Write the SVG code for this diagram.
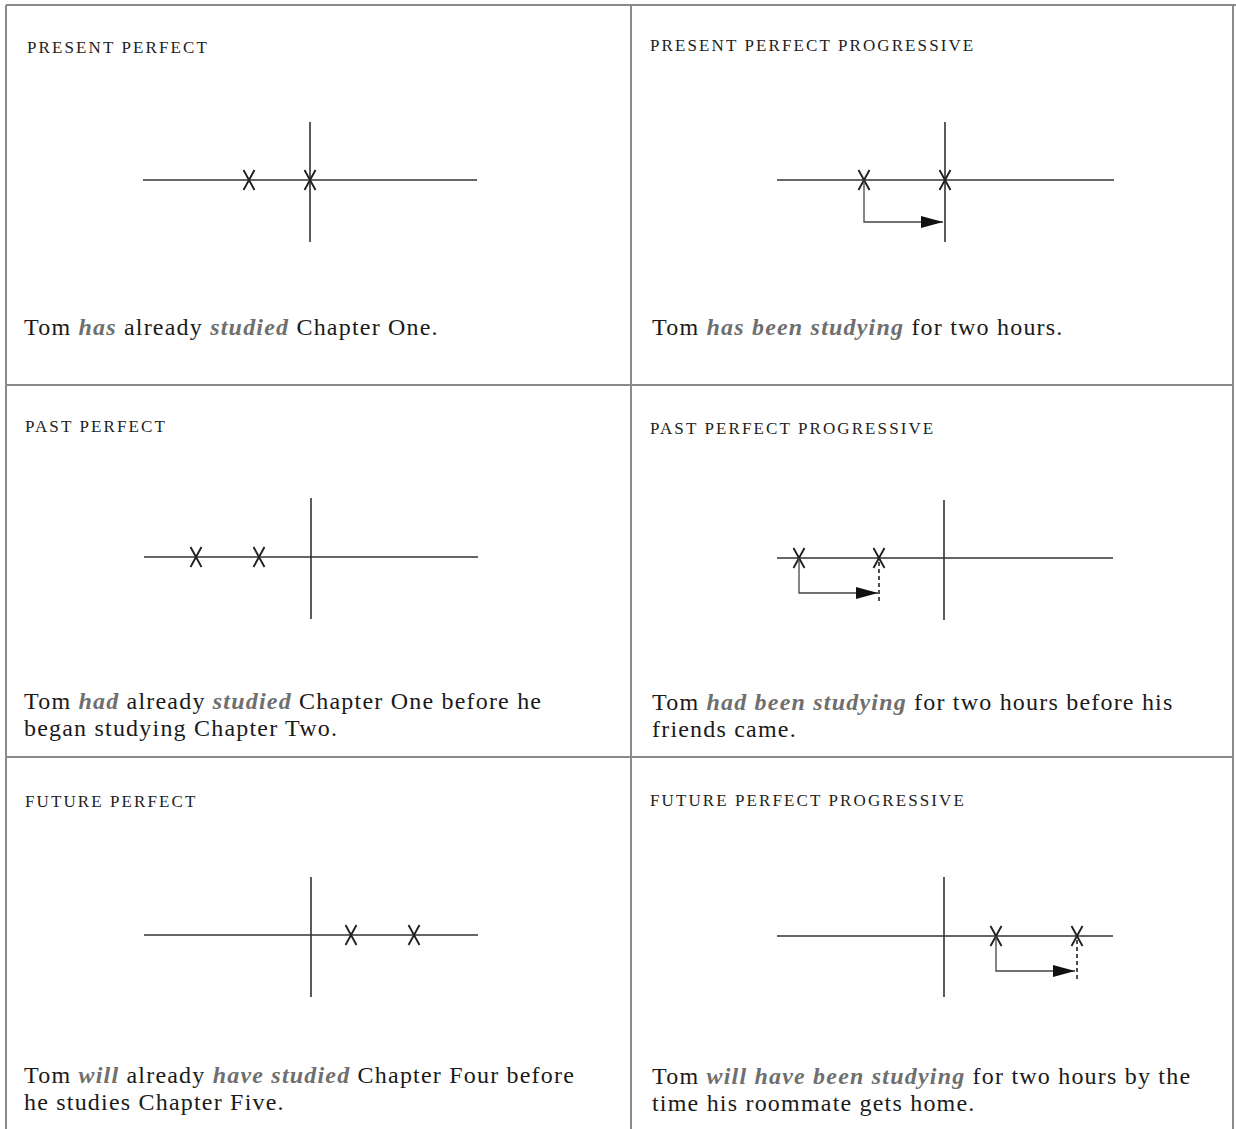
<svg xmlns="http://www.w3.org/2000/svg" width="1236" height="1129" viewBox="0 0 1236 1129">
<style>
.grid{stroke:#8a8a8a;stroke-width:2;fill:none}
.tl{stroke:#333;stroke-width:1.6;fill:none}
.x{stroke:#222;stroke-width:1.9;fill:none}
.dash{stroke:#222;stroke-width:1.6;stroke-dasharray:4 3;fill:none}
.arr{stroke:#444;stroke-width:1.3;fill:none}
.title{font-family:"Liberation Serif",serif;font-size:17px;letter-spacing:2.1px;fill:#222}
.sent{font-family:"Liberation Serif",serif;font-size:24px;letter-spacing:1.2px;fill:#1a1a1a}
.em{font-weight:bold;font-style:italic;fill:#6f6f6f}
</style>
<defs>
<marker id="ah" viewBox="0 0 22 12" refX="22" refY="6" markerWidth="22" markerHeight="12" markerUnits="userSpaceOnUse" orient="auto">
<path d="M0,0 L22,6 L0,12 Z" fill="#111"/>
</marker>
<g id="xm"><path class="x" d="M-5.5,-10 L5.5,10 M5.5,-10 L-5.5,10"/></g>
</defs>
<rect width="1236" height="1129" fill="#fff"/>
<g id="grid">
<line class="grid" x1="6" y1="5" x2="1236" y2="5"/>
<line class="grid" x1="6" y1="5" x2="6" y2="1129"/>
<line class="grid" x1="1233" y1="5" x2="1233" y2="1129"/>
<line class="grid" x1="631" y1="5" x2="631" y2="1129"/>
<line class="grid" x1="6" y1="385" x2="1233" y2="385"/>
<line class="grid" x1="6" y1="757" x2="1233" y2="757"/>
</g>
<g id="present-perfect">
<text class="title" x="27" y="53">PRESENT PERFECT</text>
<line class="tl" x1="143" y1="180" x2="477" y2="180"/>
<line class="tl" x1="310" y1="122" x2="310" y2="242"/>
<use href="#xm" x="249" y="180"/>
<use href="#xm" x="310" y="180"/>
<text class="sent" x="24" y="335">Tom <tspan class="em">has</tspan> already <tspan class="em">studied</tspan> Chapter One.</text>
</g>
<g id="present-perfect-progressive">
<text class="title" x="650" y="51">PRESENT PERFECT PROGRESSIVE</text>
<line class="tl" x1="777" y1="180" x2="1114" y2="180"/>
<line class="tl" x1="945" y1="122" x2="945" y2="242"/>
<use href="#xm" x="864" y="180"/>
<use href="#xm" x="945" y="180"/>
<text class="sent" x="652" y="335">Tom <tspan class="em">has been studying</tspan> for two hours.</text>
</g>
<g id="past-perfect">
<text class="title" x="25" y="432">PAST PERFECT</text>
<line class="tl" x1="144" y1="557" x2="478" y2="557"/>
<line class="tl" x1="311" y1="498" x2="311" y2="619"/>
<use href="#xm" x="196" y="557"/>
<use href="#xm" x="259" y="557"/>
<text class="sent" x="24" y="709">Tom <tspan class="em">had</tspan> already <tspan class="em">studied</tspan> Chapter One before he</text>
<text class="sent" x="24" y="736">began studying Chapter Two.</text>
</g>
<g id="past-perfect-progressive">
<text class="title" x="650" y="434">PAST PERFECT PROGRESSIVE</text>
<line class="tl" x1="777" y1="558" x2="1113" y2="558"/>
<line class="tl" x1="944" y1="500" x2="944" y2="620"/>
<use href="#xm" x="799" y="558"/>
<use href="#xm" x="879" y="558"/>
<line class="dash" x1="879" y1="562" x2="879" y2="603"/>
<text class="sent" x="652" y="710">Tom <tspan class="em">had been studying</tspan> for two hours before his</text>
<text class="sent" x="652" y="737">friends came.</text>
</g>
<g id="future-perfect">
<text class="title" x="25" y="807">FUTURE PERFECT</text>
<line class="tl" x1="144" y1="935" x2="478" y2="935"/>
<line class="tl" x1="311" y1="877" x2="311" y2="997"/>
<use href="#xm" x="351" y="935"/>
<use href="#xm" x="414" y="935"/>
<text class="sent" x="24" y="1083">Tom  <tspan class="em">will</tspan> already <tspan class="em">have studied</tspan> Chapter Four before</text>
<text class="sent" x="24" y="1110">he studies Chapter Five.</text>
</g>
<g id="future-perfect-progressive">
<text class="title" x="650" y="806">FUTURE PERFECT PROGRESSIVE</text>
<line class="tl" x1="777" y1="936" x2="1113" y2="936"/>
<line class="tl" x1="944" y1="877" x2="944" y2="997"/>
<use href="#xm" x="996" y="936"/>
<use href="#xm" x="1077" y="936"/>
<line class="dash" x1="1077" y1="940" x2="1077" y2="981"/>
<text class="sent" x="652" y="1084">Tom <tspan class="em">will have been studying</tspan> for two hours by the</text>
<text class="sent" x="652" y="1111">time his roommate gets home.</text>
</g>
<g id="connectors">
<path class="arr" d="M864,180 L864,222 L943,222" marker-end="url(#ah)"/>
<path class="arr" d="M799,558 L799,593 L878,593" marker-end="url(#ah)"/>
<path class="arr" d="M996,936 L996,971 L1075,971" marker-end="url(#ah)"/>
</g>
</svg>
